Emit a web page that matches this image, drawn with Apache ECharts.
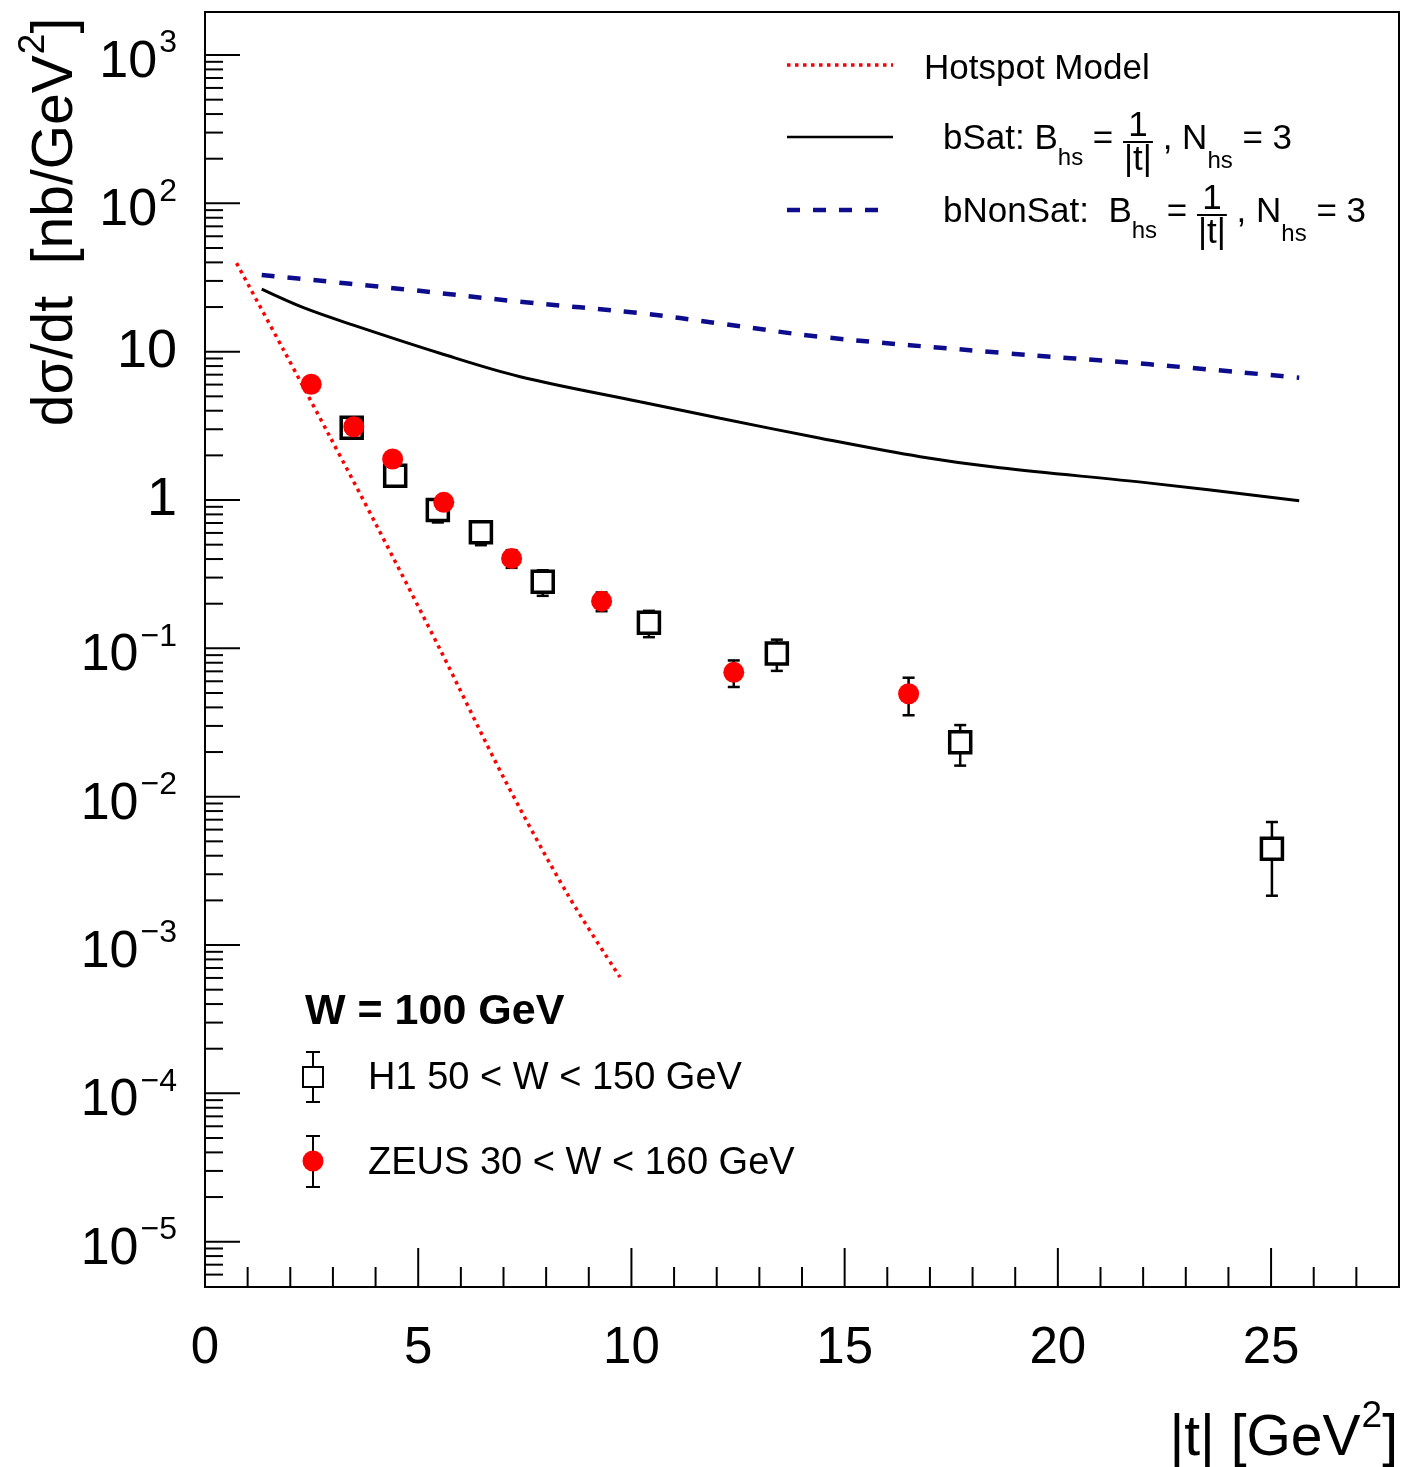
<!DOCTYPE html>
<html>
<head>
<meta charset="utf-8">
<title>dσ/dt vs |t|, W = 100 GeV</title>
<script src="https://cdn.jsdelivr.net/npm/echarts@6/dist/echarts.min.js"></script>
<style>
  html, body { margin: 0; padding: 0; background: #fff; }
  #chart { width: 1422px; height: 1467px; }
</style>
</head>
<body>
<div id="chart"></div>
<script>
// ---- measured points (|t| in GeV^2, dσ/dt in nb/GeV^2) ----
const h1T    = [3.44, 4.46, 5.46, 6.47, 7.92, 10.41, 13.41, 17.71, 25.02];
const h1Val  = [3.07, 1.46, 0.856, 0.606, 0.281, 0.149, 0.0925, 0.0233, 0.00445];
const h1Err  = [0.30, 0.20, 0.15, 0.11, 0.055, 0.030, 0.022, 0.0071, 0.0023];

const zeusT   = [2.49, 3.49, 4.40, 5.60, 7.19, 9.30, 12.40, 16.50];
const zeusVal = [6.03, 3.12, 1.89, 0.965, 0.404, 0.208, 0.0689, 0.0494];
const zeusErr = [0.55, 0.30, 0.20, 0.10, 0.055, 0.030, 0.014, 0.014];

// ---- model curves ----
const hotspotT   = [0.74, 1.84, 2.93, 4.03, 5.5, 7.0, 8.5, 9.73];
const hotspotVal = [39.5, 10.3, 2.67, 0.668, 0.10, 0.0135, 0.0022, 0.000608];

const bSatT   = [1.33, 2.31, 3.48, 5.51, 7.39, 10.20, 12.08, 14.43, 16.77, 18.64, 22.16, 25.66];
const bSatVal = [26.4, 19.8, 15.1, 9.76, 6.78, 4.60, 3.56, 2.61, 1.96, 1.65, 1.30, 0.99];

const bNonSatT   = [1.33, 4.65, 7.39, 10.20, 12.08, 14.43, 18.64, 22.16, 25.66];
const bNonSatVal = [32.9, 26.4, 21.7, 18.2, 15.5, 12.6, 9.85, 8.22, 6.68];

// ---- axis ranges ----
const xMin = 0, xMax = 28;
const yMin = 4.95e-6, yMax = 1950;

const FONT = '"Liberation Sans", Arial, Helvetica, sans-serif';
const RED = '#ff0000';
const NAVY = '#0c0c8c';

const zip = (a, b, c) => a.map((v, i) => c ? [v, b[i], c[i]] : [v, b[i]]);

// log-axis tick marks: 1..9 x 10^e, long for decades
const yTicks = [];
for (let e = -6; e <= 3; e++) {
  for (let k = 1; k <= 9; k++) {
    const v = k * Math.pow(10, e);
    if (v > yMin * 1.03 && v < yMax * 0.99) yTicks.push([xMin, v, k === 1 ? 35 : 18]);
  }
}
const xTicks = [];
for (let v = 1; v < xMax; v++) xTicks.push([v, yMin, v % 5 === 0 ? 39 : 20]);

// ---- text measurement for formula legend rows ----
const mctx = document.createElement('canvas').getContext('2d');
function tw(s, size, weight) {
  mctx.font = (weight || 'normal') + ' ' + size + 'px ' + FONT;
  return mctx.measureText(s).width;
}
function txt(x, y, s, size, weight) {
  return {
    type: 'text', x: x, y: y, z: 100,
    style: {
      text: s, fontSize: size, fontFamily: FONT, fontWeight: weight || 'normal', fill: '#000',
      align: 'left', textAlign: 'left', verticalAlign: 'middle', textVerticalAlign: 'middle'
    }
  };
}
function formulaRow(x0, y, parts) {
  const out = [];
  let x = x0;
  parts.forEach(p => {
    if (p.frac) {
      const w = Math.max(tw(p.num, p.size), tw(p.den, p.size)) + 2;
      const cx = x + w / 2;
      const n = txt(cx, y - 13, p.num, p.size); n.style.align = n.style.textAlign = 'center';
      const d = txt(cx, y + 21, p.den, p.size); d.style.align = d.style.textAlign = 'center';
      out.push(n, d, {
        type: 'line', z: 100,
        shape: { x1: x, y1: y + 3, x2: x + w, y2: y + 3 },
        style: { stroke: '#000', lineWidth: 2 }
      });
      x += w;
    } else {
      out.push(txt(x, y + (p.dy || 0), p.t, p.size));
      x += tw(p.t, p.size);
    }
  });
  return out;
}
const M = 35, S = 24;
function modelRow(label, y) {
  return formulaRow(943, y, [
    { t: label + 'B', size: M },
    { t: 'hs', size: S, dy: 19 },
    { t: ' = ', size: M },
    { frac: true, num: '1', den: '|t|', size: M },
    { t: ' , N', size: M },
    { t: 'hs', size: S, dy: 22 },
    { t: ' = 3', size: M }
  ]);
}

// error-bar marks with caps
function errorBars(color) {
  return function (params, api) {
    const x = api.value(0), y = api.value(1), e = api.value(2);
    const top = api.coord([x, y + e]);
    const bot = api.coord([x, y - e]);
    const st = { stroke: color, lineWidth: 2.5 };
    return {
      type: 'group',
      children: [
        { type: 'line', shape: { x1: top[0], y1: top[1], x2: bot[0], y2: bot[1] }, style: st },
        { type: 'line', shape: { x1: top[0] - 6, y1: top[1], x2: top[0] + 6, y2: top[1] }, style: st },
        { type: 'line', shape: { x1: bot[0] - 6, y1: bot[1], x2: bot[0] + 6, y2: bot[1] }, style: st }
      ]
    };
  };
}

const chart = echarts.init(document.getElementById('chart'), null, { renderer: 'canvas' });

const option = {
  animation: false,
  backgroundColor: '#fff',
  grid: {
    left: 205, right: 23, top: 12, bottom: 180,
    show: true, borderColor: '#000', borderWidth: 2, backgroundColor: 'transparent',
    containLabel: false, outerBoundsMode: 'none'
  },
  xAxis: {
    type: 'value', min: xMin, max: xMax, interval: 5,
    axisLine: { show: false }, axisTick: { show: false }, splitLine: { show: false },
    axisLabel: {
      margin: 36, color: '#000', fontSize: 51, fontFamily: FONT,
      showMaxLabel: false,
      formatter: v => (v % 5 === 0 ? String(v) : '')
    }
  },
  yAxis: {
    type: 'log', logBase: 10, min: yMin, max: yMax,
    axisLine: { show: false }, axisTick: { show: false }, splitLine: { show: false },
    axisLabel: {
      margin: 28, color: '#000', fontFamily: FONT,
      showMinLabel: false, showMaxLabel: false,
      formatter: v => {
        const l = Math.log10(v);
        const e = Math.round(l);
        if (Math.abs(l - e) > 1e-6) return '';
        if (e === 0) return '{p|1}';
        if (e === 1) return '{p|10}';
        return '{b|10}{s|' + (e < 0 ? '\u2212' + (-e) : String(e)) + '}';
      },
      rich: {
        p: { fontSize: 54, fontFamily: FONT, color: '#000', verticalAlign: 'middle' },
        b: { fontSize: 52, fontFamily: FONT, color: '#000', verticalAlign: 'middle', padding: [15, 0, 0, 0] },
        s: { fontSize: 32, fontFamily: FONT, color: '#000', verticalAlign: 'top', padding: [6, 0, 0, 2] }
      }
    }
  },
  series: [
    {
      name: 'yTicks', type: 'custom', silent: true, clip: false, z: 3,
      data: yTicks,
      renderItem: (params, api) => {
        const p = api.coord([api.value(0), api.value(1)]);
        return { type: 'line', shape: { x1: p[0], y1: p[1], x2: p[0] + api.value(2), y2: p[1] }, style: { stroke: '#000', lineWidth: 2 } };
      }
    },
    {
      name: 'xTicks', type: 'custom', silent: true, clip: false, z: 3,
      data: xTicks,
      renderItem: (params, api) => {
        const p = api.coord([api.value(0), api.value(1)]);
        return { type: 'line', shape: { x1: p[0], y1: p[1], x2: p[0], y2: p[1] - api.value(2) }, style: { stroke: '#000', lineWidth: 2 } };
      }
    },
    {
      name: 'Hotspot Model', type: 'line', data: zip(hotspotT, hotspotVal),
      showSymbol: false, smooth: 0.3, z: 4,
      lineStyle: { color: RED, width: 3.5, type: [3.5, 4.5], cap: 'butt' }
    },
    {
      name: 'bSat', type: 'line', data: zip(bSatT, bSatVal),
      showSymbol: false, smooth: 0.35, z: 4,
      lineStyle: { color: '#000', width: 3, type: 'solid' }
    },
    {
      name: 'bNonSat', type: 'line', data: zip(bNonSatT, bNonSatVal),
      showSymbol: false, smooth: 0.35, z: 4,
      lineStyle: { color: NAVY, width: 4.5, type: [13, 13], cap: 'butt' }
    },
    {
      name: 'H1 errors', type: 'custom', silent: true, z: 5,
      data: zip(h1T, h1Val, h1Err), renderItem: errorBars('#000')
    },
    {
      name: 'H1 50 < W < 150 GeV', type: 'scatter', z: 6,
      data: zip(h1T, h1Val), symbol: 'rect', symbolSize: 21,
      itemStyle: { color: '#fff', borderColor: '#000', borderWidth: 3.5, opacity: 1 }
    },
    {
      name: 'ZEUS errors', type: 'custom', silent: true, z: 7,
      data: zip(zeusT, zeusVal, zeusErr), renderItem: errorBars('#000')
    },
    {
      name: 'ZEUS 30 < W < 160 GeV', type: 'scatter', z: 8,
      data: zip(zeusT, zeusVal), symbol: 'circle', symbolSize: 21,
      itemStyle: { color: RED, opacity: 1 }
    }
  ],
  graphic: {
    elements: [
      // y-axis title
      {
        type: 'text', x: 50, y: 222, rotation: Math.PI / 2, z: 100,
        style: {
          text: '{m|d\u03c3/dt  [nb/GeV}{s|2}{m|]}',
          align: 'center', textAlign: 'center', verticalAlign: 'middle', textVerticalAlign: 'middle',
          rich: {
            m: { fontSize: 57, fontFamily: FONT, color: '#000', verticalAlign: 'middle', padding: [12, 0, 0, 0] },
            s: { fontSize: 37, fontFamily: FONT, color: '#000', verticalAlign: 'top', padding: [0, 0, 0, 1] }
          }
        }
      },
      // x-axis title
      {
        type: 'text', x: 1398, y: 1433, z: 100,
        style: {
          text: '{m||t| [GeV}{s|2}{m|]}',
          align: 'right', textAlign: 'right', verticalAlign: 'middle', textVerticalAlign: 'middle',
          rich: {
            m: { fontSize: 57, fontFamily: FONT, color: '#000', verticalAlign: 'middle', padding: [12, 0, 0, 0] },
            s: { fontSize: 37, fontFamily: FONT, color: '#000', verticalAlign: 'top', padding: [0, 0, 0, 1] }
          }
        }
      },
      // model legend
      { type: 'line', z: 100, shape: { x1: 787, y1: 65, x2: 893, y2: 65 }, style: { stroke: RED, lineWidth: 3.5, lineDash: [3.5, 4.5] } },
      txt(924, 69, 'Hotspot Model', M),
      { type: 'line', z: 100, shape: { x1: 787, y1: 137, x2: 893, y2: 137 }, style: { stroke: '#000', lineWidth: 2.5 } },
      ...modelRow('bSat: ', 139),
      { type: 'line', z: 100, shape: { x1: 787, y1: 210, x2: 880, y2: 210 }, style: { stroke: NAVY, lineWidth: 4.5, lineDash: [13, 13] } },
      ...modelRow('bNonSat:  ', 212),
      // data legend
      txt(305, 1012, 'W = 100 GeV', 43, 'bold'),
      { type: 'line', z: 100, shape: { x1: 313, y1: 1052, x2: 313, y2: 1102 }, style: { stroke: '#000', lineWidth: 2 } },
      { type: 'line', z: 100, shape: { x1: 306, y1: 1052, x2: 320, y2: 1052 }, style: { stroke: '#000', lineWidth: 2 } },
      { type: 'line', z: 100, shape: { x1: 306, y1: 1102, x2: 320, y2: 1102 }, style: { stroke: '#000', lineWidth: 2 } },
      { type: 'rect', z: 101, shape: { x: 303, y: 1067, width: 20, height: 20 }, style: { fill: '#fff', stroke: '#000', lineWidth: 2 } },
      txt(368, 1079, 'H1 50 < W < 150 GeV', 38),
      { type: 'line', z: 100, shape: { x1: 313, y1: 1136, x2: 313, y2: 1187 }, style: { stroke: '#000', lineWidth: 2 } },
      { type: 'line', z: 100, shape: { x1: 306, y1: 1136, x2: 320, y2: 1136 }, style: { stroke: '#000', lineWidth: 2 } },
      { type: 'line', z: 100, shape: { x1: 306, y1: 1187, x2: 320, y2: 1187 }, style: { stroke: '#000', lineWidth: 2 } },
      { type: 'circle', z: 101, shape: { cx: 313, cy: 1161, r: 10.5 }, style: { fill: RED } },
      txt(368, 1164, 'ZEUS 30 < W < 160 GeV', 38)
    ]
  }
};

chart.setOption(option);
</script>
</body>
</html>
